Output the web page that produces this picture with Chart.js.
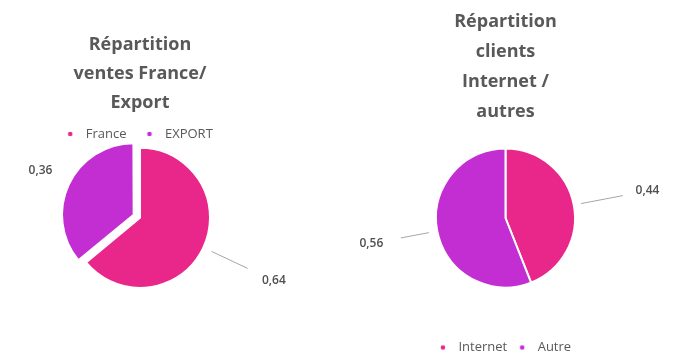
<!DOCTYPE html>
<html lang="fr">
<head>
  <meta charset="UTF-8" />
  <title>Répartition ventes et clients</title>
  <script src="https://cdn.jsdelivr.net/npm/chart.js"></script>
  <style>
    html, body {
      margin: 0;
      padding: 0;
      background: #fff;
      overflow: hidden;
    }

    /* Two pies side by side */
    .wrap {
      position: relative;
      width: 677px;
      height: 355px;
      overflow: hidden;
    }

    .box {
      position: absolute;
      top: 0;
    }

    #left { left: 0; width: 340px; height: 355px; }
    /* a bit taller than the window so the legend can sit near the bottom edge */
    #right { left: 340px; width: 337px; height: 364px; }
  </style>
</head>
<body>
  <div class="wrap">
    <div class="box" id="left"><canvas id="ventes"></canvas></div>
    <div class="box" id="right"><canvas id="clients"></canvas></div>
  </div>

  <script>
    // Chart data
    const ventesTitle = ['Répartition', 'ventes France/', 'Export'];
    const ventesLabels = ['France', 'EXPORT'];
    const ventesValues = [0.64, 0.36];

    const clientsTitle = ['Répartition', 'clients', 'Internet /', 'autres'];
    const clientsLabels = ['Internet', 'Autre'];
    const clientsValues = [0.44, 0.56];

    const sliceColors = ['#e9278b', '#c32ed2'];
    const textGray = '#595959';
    const fontFamily = "'Open Sans', sans-serif";

    // Value labels outside the pie, with optional leader line
    const sliceLabels = {
      id: 'sliceLabels',
      afterDatasetsDraw(chart, args, opts) {
        const ctx = chart.ctx;
        const meta = chart.getDatasetMeta(0);
        const values = chart.data.datasets[0].data;
        ctx.save();
        ctx.font = "600 12px 'Open Sans'";
        ctx.fillStyle = '#505050';
        ctx.strokeStyle = '#a6a6a6';
        ctx.lineWidth = 1;
        ctx.textAlign = 'center';
        ctx.textBaseline = 'middle';
        meta.data.forEach((arc, i) => {
          const p = arc.getProps(['x', 'y', 'startAngle', 'endAngle', 'outerRadius'], true);
          const mid = (p.startAngle + p.endAngle) / 2;
          const cos = Math.cos(mid);
          const sin = Math.sin(mid);
          const place = opts.place[i];
          if (place.line) {
            const r1 = p.outerRadius + place.line[0];
            const r2 = p.outerRadius + place.line[1];
            ctx.beginPath();
            ctx.moveTo(p.x + cos * r1, p.y + sin * r1);
            ctx.lineTo(p.x + cos * r2, p.y + sin * r2);
            ctx.stroke();
          }
          const rt = p.outerRadius + place.text;
          ctx.fillText(String(values[i]).replace('.', ','), p.x + cos * rt, p.y + sin * rt);
        });
        ctx.restore();
      }
    };

    // Small round legend marker, drawn left of centre so the text sits further away
    function makeDot(color) {
      const c = document.createElement('canvas');
      c.width = 20;
      c.height = 8;
      const g = c.getContext('2d');
      g.fillStyle = color;
      g.beginPath();
      g.arc(7, 4, 2.3, 0, Math.PI * 2);
      g.fill();
      return c;
    }
    const dots = sliceColors.map(makeDot);

    function dotLabels(chart) {
      return Chart.overrides.pie.plugins.legend.labels.generateLabels(chart)
        .map((item, i) => ({ ...item, lineWidth: 0, pointStyle: dots[i] }));
    }

    new Chart(document.getElementById('ventes'), {
      type: 'pie',
      data: {
        labels: ventesLabels,
        datasets: [{
          data: ventesValues,
          backgroundColor: sliceColors,
          borderColor: '#fff',
          borderWidth: 2,
          offset: [0, 28]
        }]
      },
      options: {
        responsive: true,
        maintainAspectRatio: false,
        animation: false,
        radius: 70,
        layout: { padding: { top: 20, right: 60, bottom: 70, left: 0 } },
        plugins: {
          tooltip: { enabled: false },
          title: {
            display: true,
            text: ventesTitle,
            color: textGray,
            font: { family: fontFamily, size: 18, weight: 'bold', lineHeight: 29 / 18 },
            padding: { top: 10.5, bottom: -10 }
          },
          legend: {
            position: 'top',
            labels: {
              usePointStyle: true,
              boxWidth: 12,
              boxHeight: 12,
              padding: 20,
              color: textGray,
              font: { family: fontFamily, size: 13 },
              generateLabels: dotLabels
            }
          },
          sliceLabels: {
            place: [
              { line: [9, 49], text: 78 },
              { line: null, text: 40 }
            ]
          }
        }
      },
      plugins: [sliceLabels]
    });

    new Chart(document.getElementById('clients'), {
      type: 'pie',
      data: {
        labels: clientsLabels,
        datasets: [{
          data: clientsValues,
          backgroundColor: sliceColors,
          borderColor: '#fff',
          borderWidth: 2
        }]
      },
      options: {
        responsive: true,
        maintainAspectRatio: false,
        animation: false,
        radius: 69.5,
        layout: { padding: { top: 0, right: 6, bottom: 0, left: 0 } },
        plugins: {
          tooltip: { enabled: false },
          title: {
            display: true,
            text: clientsTitle,
            color: textGray,
            font: { family: fontFamily, size: 18, weight: 'bold', lineHeight: 30 / 18 },
            padding: { top: 7, bottom: 0 }
          },
          legend: {
            position: 'bottom',
            // empty legend title only adds room above the items
            title: { display: true, text: ' ', font: { size: 2, lineHeight: 1 }, padding: 9 },
            labels: {
              usePointStyle: true,
              boxWidth: 12,
              boxHeight: 12,
              padding: 12,
              color: textGray,
              font: { family: fontFamily, size: 13 },
              generateLabels: dotLabels
            }
          },
          sliceLabels: {
            place: [
              { line: [7.5, 50], text: 75 },
              { line: [8.5, 37], text: 67 }
            ]
          }
        }
      },
      plugins: [sliceLabels]
    });
  </script>
</body>
</html>
